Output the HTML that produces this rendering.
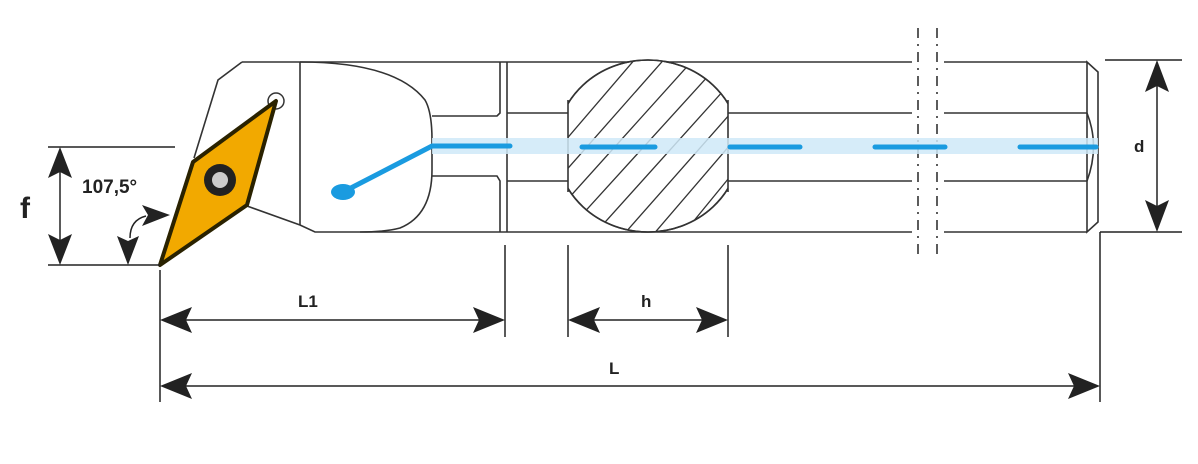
<!DOCTYPE html>
<html><head><meta charset="utf-8"><style>
html,body{margin:0;padding:0;background:#fff;}
svg{display:block}
text{font-family:"Liberation Sans",sans-serif;font-weight:bold;fill:#222}
</style></head><body>
<svg width="1198" height="464" viewBox="0 0 1198 464" xmlns="http://www.w3.org/2000/svg">
<defs>
<clipPath id="sec"><rect x="568" y="55" width="160" height="185"/></clipPath>
<clipPath id="ell"><ellipse cx="648" cy="146" rx="92" ry="86"/></clipPath>
</defs>
<g fill="none" stroke="#333" stroke-width="1.6">
<path d="M242,62 L218,80 L194,158"/>
<path d="M247,206 L300,225 L315,232 L500,232"/>
<path d="M242,62 L300,62 Q395,62 425,100 Q432,112 432,140 L432,170 Q432,215 400,228 Q385,232 360,232"/>
<line x1="300" y1="62" x2="300" y2="225"/>
<path d="M432,116 L497,116 L500,113 L500,62"/>
<path d="M432,176 L497,176 L500,181 L500,232"/>
<line x1="300" y1="62" x2="1087" y2="62"/>
<line x1="500" y1="232" x2="1087" y2="232"/>
<line x1="507" y1="62" x2="507" y2="232"/>
<line x1="507" y1="113" x2="1087" y2="113"/>
<line x1="507" y1="181" x2="1087" y2="181"/>
<path d="M1087,62 L1098,72 L1098,222 L1087,232 Z"/>
<path d="M1087,113 Q1100,146 1087,181"/>
<g clip-path="url(#sec)">
<ellipse cx="648" cy="146" rx="92" ry="86" fill="#fff"/>
<g clip-path="url(#ell)" stroke-width="1.3">
<line x1="540" y1="170" x2="660" y2="30"/><line x1="540" y1="200" x2="690" y2="30"/><line x1="540" y1="230" x2="720" y2="30"/><line x1="550" y1="250" x2="750" y2="30"/><line x1="580" y1="250" x2="760" y2="50"/><line x1="610" y1="250" x2="760" y2="80"/><line x1="640" y1="250" x2="760" y2="110"/><line x1="670" y1="250" x2="760" y2="140"/>
</g>
<ellipse cx="648" cy="146" rx="92" ry="86"/>
</g>
<line x1="568" y1="100" x2="568" y2="192"/><line x1="728" y1="100" x2="728" y2="192"/>
</g>
<rect x="912" y="25" width="32" height="235" fill="#fff"/>
<g stroke="#333" stroke-width="1.6" stroke-dasharray="10,6,2,6">
<line x1="918" y1="28" x2="918" y2="258"/><line x1="937" y1="28" x2="937" y2="258"/>
</g>
<rect x="432" y="138" width="666" height="16" fill="#cfe9f8" opacity="0.85"/>
<g stroke="#1a9be0" stroke-width="5" stroke-linecap="round" fill="none">
<path d="M347,190 L432,146 L510,146"/>
<line x1="582" y1="147" x2="655" y2="147"/><line x1="730" y1="147" x2="800" y2="147"/><line x1="875" y1="147" x2="945" y2="147"/><line x1="1020" y1="147" x2="1096" y2="147"/>
</g>
<ellipse cx="343" cy="192" rx="12" ry="8" fill="#1a9be0"/>
<circle cx="276" cy="101" r="8" fill="#fff" stroke="#333" stroke-width="1.5"/>
<polygon points="160,265 193,162 276,101 247,205" fill="#f2a900" stroke="#2a2200" stroke-width="4" stroke-linejoin="round"/>
<circle cx="220" cy="180" r="16" fill="#222"/>
<circle cx="220" cy="180" r="8" fill="#ccc"/>
<g stroke="#222" stroke-width="1.5">
<line x1="48" y1="147" x2="175" y2="147"/><line x1="48" y1="265" x2="160" y2="265"/>
<line x1="60" y1="160" x2="60" y2="255"/>
<line x1="160" y1="270" x2="160" y2="402"/>
<line x1="505" y1="245" x2="505" y2="337"/><line x1="568" y1="245" x2="568" y2="337"/><line x1="728" y1="245" x2="728" y2="337"/>
<line x1="1100" y1="232" x2="1100" y2="402"/>
<line x1="1105" y1="60" x2="1182" y2="60"/><line x1="1100" y1="232" x2="1182" y2="232"/>
<line x1="1157" y1="75" x2="1157" y2="218"/>
<line x1="170" y1="320" x2="495" y2="320"/><line x1="578" y1="320" x2="718" y2="320"/>
<line x1="170" y1="386" x2="1090" y2="386"/>
</g>
<g fill="#222">
<polygon points="60,147 48,178 60,172 72,178"/><polygon points="60,265 48,234 60,240 72,234"/>
<polygon points="160,320 192,307 186,320 192,333"/><polygon points="505,320 473,307 479,320 473,333"/>
<polygon points="568,320 600,307 594,320 600,333"/><polygon points="728,320 696,307 702,320 696,333"/>
<polygon points="160,386 192,373 186,386 192,399"/><polygon points="1100,386 1068,373 1074,386 1068,399"/>
<polygon points="1157,60 1145,92 1157,86 1169,92"/><polygon points="1157,232 1145,200 1157,206 1169,200"/>
<polygon points="170,215 142,205 148,215 142,226"/><polygon points="128,265 117,236 128,241 139,236"/>
</g>
<path d="M130,238 Q130,220 146,216" fill="none" stroke="#222" stroke-width="1.5"/>
<text x="20" y="218" font-size="30">f</text>
<text x="82" y="193" font-size="19">107,5°</text>
<text x="298" y="307" font-size="17">L1</text>
<text x="641" y="307" font-size="17">h</text>
<text x="609" y="374" font-size="17">L</text>
<text x="1134" y="152" font-size="17">d</text>
</svg>
</body></html>
